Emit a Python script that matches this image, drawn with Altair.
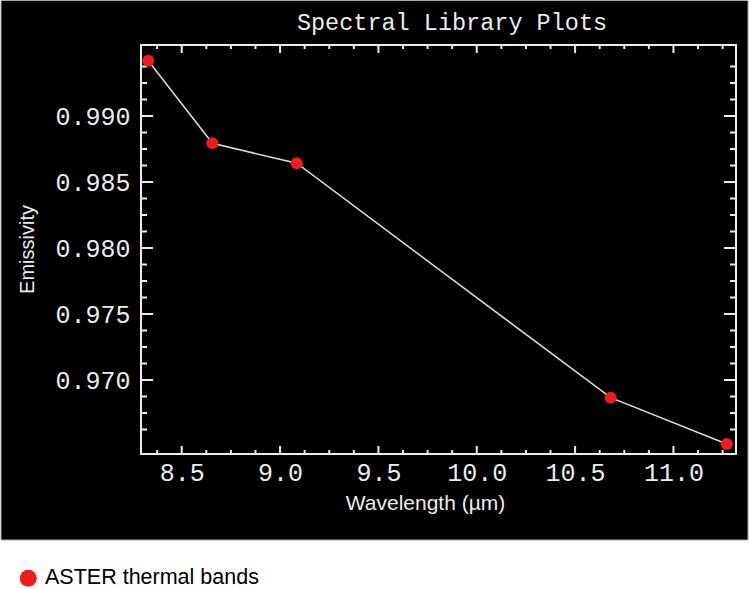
import altair as alt
import pandas as pd

# ---- data ----
wavelength = [8.330, 8.656, 9.085, 10.681, 11.271]
emissivity = [0.99419, 0.98793, 0.98642, 0.96866, 0.96515]
series_name = "ASTER thermal bands"

x_major = [8.5, 9.0, 9.5, 10.0, 10.5, 11.0]
x_minor = [8.375, 8.625, 8.75, 8.875, 9.125, 9.25, 9.375, 9.625, 9.75, 9.875,
           10.125, 10.25, 10.375, 10.625, 10.75, 10.875, 11.125, 11.25]
y_major = [0.970, 0.975, 0.980, 0.985, 0.990]
y_minor = [0.96625, 0.9675, 0.96875, 0.97125, 0.9725, 0.97375, 0.97625, 0.9775,
           0.97875, 0.98125, 0.9825, 0.98375, 0.98625, 0.9875, 0.98875,
           0.99125, 0.9925, 0.99375]

x_domain = [8.293, 11.318]
y_domain = [0.964394, 0.995379]

W, H = 595, 409
FG = "#ececec"
RED = "#ee1c1c"

pts = pd.DataFrame({"wl": wavelength, "em": emissivity, "series": [series_name] * len(wavelength)})
xmaj = pd.DataFrame({"v": x_major})
xmin = pd.DataFrame({"v": x_minor})
ymaj = pd.DataFrame({"v": y_major})
ymin = pd.DataFrame({"v": y_minor})
one = pd.DataFrame({"a": [0]})

xscale = alt.Scale(domain=x_domain, nice=False, zero=False)
yscale = alt.Scale(domain=y_domain, nice=False, zero=False)

xaxis = alt.Axis(values=x_major, format=".1f", ticks=False, domain=False, grid=False,
                 labelFont="Liberation Mono", labelFontSize=25, labelColor=FG,
                 labelPadding=6, labelFlush=False,
                 title="Wavelength (µm)", titleFont="Liberation Sans", titleFontSize=21,
                 titleFontWeight="normal", titleColor=FG, titleX=284, titleY=55,
                 titleAlign="center", titleBaseline="alphabetic", zindex=1)
yaxis = alt.Axis(values=y_major, format=".3f", ticks=False, domain=False, grid=False,
                 labelFont="Liberation Mono", labelFontSize=25, labelColor=FG,
                 labelPadding=11, labelFlush=False,
                 title="Emissivity", titleFont="Liberation Sans", titleFontSize=20,
                 titleFontWeight="normal", titleColor=FG, titleAngle=270,
                 titleX=-108, titleY=204, titleAlign="center",
                 titleBaseline="alphabetic", zindex=1)


def X(f):
    return alt.X(f, type="quantitative", scale=xscale, axis=xaxis)


def Y(f):
    return alt.Y(f, type="quantitative", scale=yscale, axis=yaxis)


# black panel behind everything (decoration)
panel = alt.Chart(one).mark_rect(color="black", stroke="#a8a8a8", strokeWidth=1).encode(
    x=alt.value(-140), x2=alt.value(607), y=alt.value(-44.5), y2=alt.value(495)
)
frame = alt.Chart(one).mark_rect(fillOpacity=0, stroke=FG, strokeWidth=2).encode(
    x=alt.value(0), x2=alt.value(W), y=alt.value(0), y2=alt.value(H)
)

tick_style = dict(color=FG, strokeWidth=2)
xt_maj_b = alt.Chart(xmaj).mark_rule(**tick_style).encode(x=X("v"), y=alt.value(H), y2=alt.value(H - 8))
xt_maj_t = alt.Chart(xmaj).mark_rule(**tick_style).encode(x=X("v"), y=alt.value(0), y2=alt.value(8))
xt_min_b = alt.Chart(xmin).mark_rule(**tick_style).encode(x=X("v"), y=alt.value(H), y2=alt.value(H - 4))
xt_min_t = alt.Chart(xmin).mark_rule(**tick_style).encode(x=X("v"), y=alt.value(0), y2=alt.value(4))
yt_maj_l = alt.Chart(ymaj).mark_rule(**tick_style).encode(y=Y("v"), x=alt.value(0), x2=alt.value(12))
yt_maj_r = alt.Chart(ymaj).mark_rule(**tick_style).encode(y=Y("v"), x=alt.value(W), x2=alt.value(W - 12))
yt_min_l = alt.Chart(ymin).mark_rule(**tick_style).encode(y=Y("v"), x=alt.value(0), x2=alt.value(6))
yt_min_r = alt.Chart(ymin).mark_rule(**tick_style).encode(y=Y("v"), x=alt.value(W), x2=alt.value(W - 6))

line = alt.Chart(pts).mark_line(color="#dcdcdc", strokeWidth=1.5).encode(x=X("wl"), y=Y("em"))
points = alt.Chart(pts).mark_circle(size=144, opacity=1).encode(
    x=X("wl"), y=Y("em"),
    color=alt.Color("series:N", scale=alt.Scale(domain=[series_name], range=[RED]),
                    legend=alt.Legend(orient="none", legendX=-123.5, legendY=522.5, title=None,
                                      labelFont="Liberation Sans", labelFontSize=21.5,
                                      labelColor="black", labelLimit=500,
                                      symbolType="circle", symbolSize=289,
                                      symbolStrokeWidth=0, symbolOpacity=1, labelOffset=6,
                                      padding=0, zindex=1)),
)

chart = alt.layer(
    panel, frame,
    xt_maj_b, xt_maj_t, xt_min_b, xt_min_t,
    yt_maj_l, yt_maj_r, yt_min_l, yt_min_r,
    line, points,
).properties(
    width=W, height=H,
    title=alt.TitleParams("Spectral Library Plots", font="Liberation Mono", fontSize=23.5,
                          color=FG, fontWeight="normal", anchor="middle", frame="group",
                          offset=16, baseline="alphabetic", dx=13.5, dy=69, zindex=1),
    padding={"left": 141, "top": 45, "right": 14, "bottom": 135},
    autosize=alt.AutoSizeParams(type="none"),
    background="white",
).configure_view(stroke=None)

chart.save("out.html", embed_options={"renderer": "svg", "actions": False})
